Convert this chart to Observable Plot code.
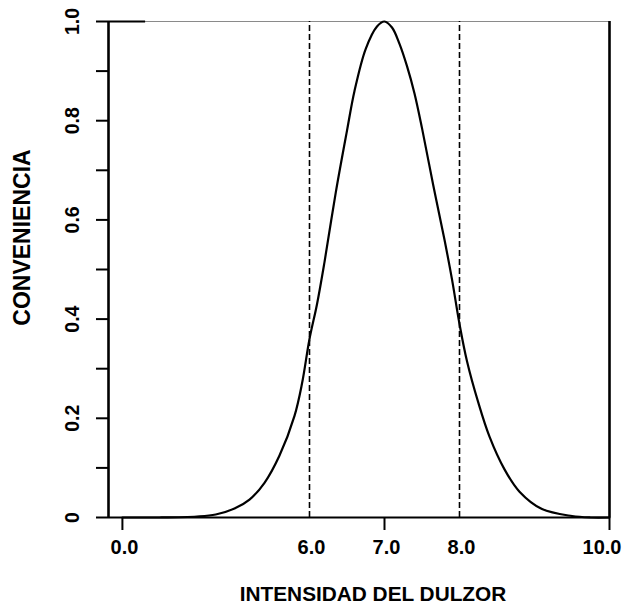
<!DOCTYPE html>
<html>
<head>
<meta charset="utf-8">
<script src="https://cdn.jsdelivr.net/npm/d3@7"></script>
<script src="https://cdn.jsdelivr.net/npm/@observablehq/plot@0.6"></script>
<style>
  html, body { margin: 0; padding: 0; background: #fff; }
  svg { font-family: "Liberation Sans", Arial, sans-serif; }
</style>
</head>
<body>
<div id="chart"></div>
<script>
// Curve: sweetness intensity vs. convenience
const intensity = [0, 3, 4.0, 4.5, 4.75, 5.0, 5.2, 5.4, 5.6, 5.8, 5.9, 6.0, 6.1, 6.2, 6.35, 6.5, 6.6, 6.75, 6.9, 7.0, 7.1, 7.2, 7.3, 7.4, 7.5, 7.65, 7.8, 7.9, 8.0, 8.1, 8.25, 8.4, 8.6, 8.8, 9.1, 9.5, 9.75, 10];
const convenience = [0, 0, 0, 0.002, 0.006, 0.018, 0.036, 0.07, 0.125, 0.205, 0.27, 0.36, 0.43, 0.515, 0.655, 0.78, 0.86, 0.945, 0.99, 1.0, 0.988, 0.955, 0.91, 0.855, 0.785, 0.67, 0.56, 0.48, 0.39, 0.315, 0.232, 0.163, 0.097, 0.052, 0.017, 0.003, 0, 0];

const limits = [6, 8];               // dashed reference lines
const xTickLabels = [0, 6, 7, 8];    // labelled x ticks (10.0 drawn separately)
const xLastTick = [10];
const xTickMarks = [0, 7, 10];
const yTickMarks = [0, 0.1, 0.2, 0.3, 0.4, 0.5, 0.6, 0.7, 0.8, 0.9, 1.0];
const yTickLabels = [0, 0.2, 0.4, 0.6, 0.8, 1.0];
const xTitle = "INTENSIDAD DEL DULZOR";
const yTitle = "CONVENIENCIA";

const data = intensity.map((x, i) => ({x, y: convenience[i]}));
const fmtX = d => d.toFixed(1);
const fmtY = d => d === 0 ? "0" : d.toFixed(1);

const chart = Plot.plot({
  width: 623,
  height: 605,
  marginLeft: 108,
  marginRight: 14,
  marginTop: 21,
  marginBottom: 88,
  style: {background: "#fff", color: "#000", fontFamily: "'Liberation Sans', Arial, sans-serif"},
  x: {type: "linear", domain: [-1.5, 4, 10], range: [108, 159, 609], label: null},
  y: {domain: [0, 1], label: null},
  marks: [
    Plot.frame({stroke: "#8a8a8a", strokeWidth: 1}),
    Plot.ruleX(limits, {y1: 0, y2: 1, stroke: "#000", strokeWidth: 1.6, strokeDasharray: "6,3"}),
    Plot.line(data, {x: "x", y: "y", curve: "catmull-rom", stroke: "#000", strokeWidth: 2.2}),
    Plot.ruleY([0], {stroke: "#000", strokeWidth: 2.2}),
    Plot.ruleX([-1.5], {stroke: "#000", strokeWidth: 2.6}),
    Plot.ruleX([10], {stroke: "#000", strokeWidth: 2.6}),
    Plot.ruleY([1], {x1: -1.5, x2: 2.5, stroke: "#000", strokeWidth: 2}),
    Plot.axisY({ticks: yTickMarks, tickSize: 12, tickFormat: () => "", label: null, stroke: "#000", strokeWidth: 2}),
    Plot.axisX({ticks: xTickMarks, tickSize: 13, tickFormat: () => "", label: null, stroke: "#000", strokeWidth: 2}),
    Plot.text(yTickLabels, {y: d => d, text: fmtY, frameAnchor: "left", dx: -36, rotate: -90,
      textAnchor: "middle", lineAnchor: "middle", fontSize: 19.5, fontWeight: "bold", fill: "#000"}),
    Plot.text(xTickLabels, {x: d => d, text: fmtX, frameAnchor: "bottom", dy: 30, dx: 2,
      textAnchor: "middle", lineAnchor: "middle", fontSize: 20, fontWeight: "bold", fill: "#000"}),
    Plot.text(xLastTick, {x: d => d, text: fmtX, frameAnchor: "bottom", dy: 30, dx: 12,
      textAnchor: "end", lineAnchor: "middle", fontSize: 20, fontWeight: "bold", fill: "#000"}),
    Plot.text([xTitle], {frameAnchor: "bottom", dx: 14, dy: 77, textAnchor: "middle", lineAnchor: "middle",
      fontSize: 20.8, fontWeight: "bold", fill: "#000"}),
    Plot.text([yTitle], {frameAnchor: "left", dx: -85.5, dy: -32, rotate: -90, textAnchor: "middle",
      lineAnchor: "middle", fontSize: 23, fontWeight: "bold", fill: "#000"})
  ]
});
document.getElementById("chart").append(chart);
</script>
</body>
</html>
